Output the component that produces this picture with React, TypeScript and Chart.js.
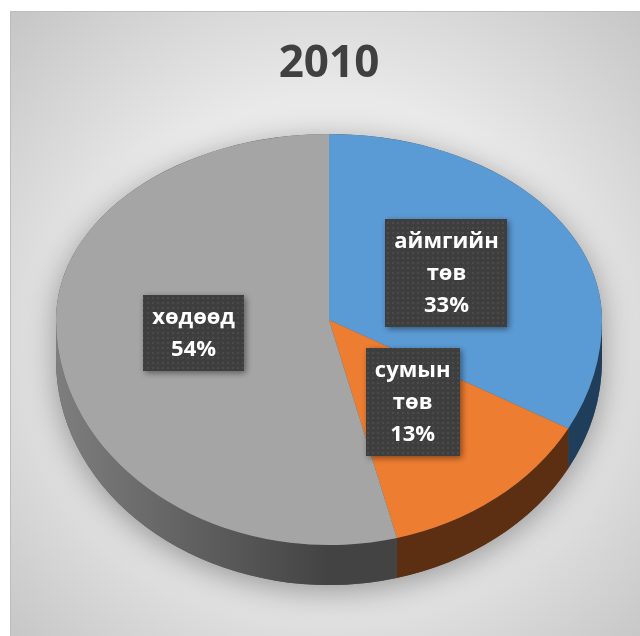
import React, { useEffect, useRef } from 'react';
import { Chart, registerables } from 'chart.js';

Chart.register(...registerables);

// ---- data ----
const TITLE = '2010';
const categories = ['аймгийн төв', 'сумын төв', 'хөдөөд'];
const shares = [33, 13, 54];
const topColors = ['#5b9bd5', '#ed7d31', '#a5a5a5'];
const sideColors: (string | null)[] = ['#1f3e5b', '#5c2f12', null];

// ---- layout of the 3D projection ----
const W = 640;
const H = 636;
const CX = 329;
const CY = 320;
const RX = 273;
const RY_UP = 186;
const RY_DOWN = 225;
const DEPTH = 40;
const LABEL_K_X = 0.5;
const LABEL_K_UP = 0.5;
const LABEL_K_DOWN = 0.46;

let dotPattern: CanvasPattern | null = null;
function getPattern(ctx: CanvasRenderingContext2D) {
  if (dotPattern) return dotPattern;
  const c = document.createElement('canvas');
  c.width = 5;
  c.height = 5;
  const p = c.getContext('2d')!;
  p.fillStyle = '#3e3e3e';
  p.fillRect(0, 0, 5, 5);
  p.fillStyle = '#4b4b4b';
  p.fillRect(2, 2, 2, 2);
  dotPattern = ctx.createPattern(c, 'repeat');
  return dotPattern;
}

const bgPlugin = {
  id: 'bgPanel',
  beforeDraw(chart: any) {
    const ctx: CanvasRenderingContext2D = chart.ctx;
    ctx.save();
    ctx.fillStyle = '#ffffff';
    ctx.fillRect(0, 0, W, H);
    const g = ctx.createRadialGradient(330, 330, 0, 330, 330, 470);
    g.addColorStop(0, '#f8f8f8');
    g.addColorStop(0.5, '#e9e9e9');
    g.addColorStop(1, '#c2c2c2');
    ctx.fillStyle = g;
    ctx.fillRect(10, 11, W - 10, H - 11);
    ctx.fillStyle = '#bdbdbd';
    ctx.fillRect(10, 11, W - 10, 1);
    ctx.fillRect(10, 11, 1, H - 11);
    ctx.restore();
  },
};

const pie3dPlugin = {
  id: 'pie3d',
  beforeDatasetsDraw(chart: any) {
    const ctx: CanvasRenderingContext2D = chart.ctx;
    const arcs = chart.getDatasetMeta(0).data;
    if (!arcs.length) return;
    const { x, y, outerRadius: R } = arcs[0].getProps(['x', 'y', 'outerRadius'], true);

    // soft shadow under the pie
    ctx.save();
    ctx.beginPath();
    ctx.ellipse(CX, CY, RX, RY_UP, 0, Math.PI, 2 * Math.PI);
    ctx.ellipse(CX, CY + DEPTH, RX, RY_DOWN, 0, 0, Math.PI);
    ctx.closePath();
    ctx.shadowColor = 'rgba(0,0,0,0.35)';
    ctx.shadowBlur = 30;
    ctx.shadowOffsetY = 6;
    ctx.fillStyle = '#555555';
    ctx.fill();
    ctx.restore();

    // side walls (front half only)
    arcs.forEach((arc: any, i: number) => {
      const p = arc.getProps(['startAngle', 'endAngle'], true);
      const s = Math.max(p.startAngle, 0);
      const e = Math.min(p.endAngle, Math.PI);
      if (e <= s) return;
      ctx.save();
      ctx.beginPath();
      ctx.ellipse(CX, CY, RX, RY_DOWN, 0, s, e);
      ctx.ellipse(CX, CY + DEPTH, RX, RY_DOWN, 0, e, s, true);
      ctx.closePath();
      let fill: any = sideColors[i];
      if (!fill) {
        const g = ctx.createLinearGradient(CX - RX, 0, CX, 0);
        g.addColorStop(0, '#7e7e7e');
        g.addColorStop(1, '#434343');
        fill = g;
      }
      ctx.fillStyle = fill;
      ctx.fill();
      ctx.restore();
    });

    // top face, drawn by the library's arc elements under a projection
    const drawHalf = (upper: boolean) => {
      ctx.save();
      ctx.beginPath();
      if (upper) ctx.rect(0, 0, W, CY + 1);
      else ctx.rect(0, CY, W, H - CY);
      ctx.clip();
      ctx.translate(CX, CY);
      ctx.scale(RX / R, (upper ? RY_UP : RY_DOWN) / R);
      ctx.translate(-x, -y);
      arcs.forEach((a: any) => a.draw(ctx));
      ctx.restore();
    };
    drawHalf(true);
    drawHalf(false);
    return false;
  },
  afterDraw(chart: any) {
    const ctx: CanvasRenderingContext2D = chart.ctx;
    const arcs = chart.getDatasetMeta(0).data;
    const values: number[] = chart.data.datasets[0].data;
    const total = values.reduce((a, b) => a + b, 0);
    const labels: string[] = chart.data.labels;
    ctx.save();
    ctx.font = '700 22px "Open Sans"';
    arcs.forEach((arc: any, i: number) => {
      const { startAngle, endAngle } = arc.getProps(['startAngle', 'endAngle'], true);
      const mid = (startAngle + endAngle) / 2;
      const sn = Math.sin(mid);
      const lx = CX + LABEL_K_X * RX * Math.cos(mid);
      const ly = CY + (sn < 0 ? LABEL_K_UP * RY_UP : LABEL_K_DOWN * RY_DOWN) * sn;
      const lines = [...labels[i].split(' '), Math.round((values[i] / total) * 100) + '%'];
      const lh = 32;
      const w = Math.max(...lines.map((l) => ctx.measureText(l).width)) + 18;
      const h = lines.length * lh + 12;
      ctx.save();
      ctx.shadowColor = 'rgba(0,0,0,0.45)';
      ctx.shadowBlur = 6;
      ctx.shadowOffsetX = 2;
      ctx.shadowOffsetY = 2;
      ctx.fillStyle = getPattern(ctx) || '#404040';
      ctx.fillRect(Math.round(lx - w / 2), Math.round(ly - h / 2), Math.round(w), h);
      ctx.restore();
      ctx.fillStyle = '#ffffff';
      ctx.textAlign = 'center';
      ctx.textBaseline = 'middle';
      lines.forEach((l, j) => ctx.fillText(l, lx, ly - h / 2 + 7 + lh * j + lh / 2));
    });
    ctx.restore();
  },
};

export default function App() {
  const ref = useRef<HTMLCanvasElement>(null);
  useEffect(() => {
    if (!ref.current) return;
    const chart = new Chart(ref.current, {
      type: 'pie',
      data: {
        labels: categories,
        datasets: [
          {
            data: shares,
            backgroundColor: topColors,
            borderWidth: 0,
          },
        ],
      },
      options: {
        responsive: false,
        devicePixelRatio: 1,
        animation: false,
        layout: { padding: { left: 18, top: 11, right: 0, bottom: 0 } },
        plugins: {
          legend: { display: false },
          tooltip: { enabled: false },
          title: {
            display: true,
            text: TITLE,
            color: '#404040',
            font: { family: 'Open Sans', size: 44, weight: 'bold' },
            padding: { top: 27, bottom: 10 },
          },
        },
      },
      plugins: [bgPlugin, pie3dPlugin],
    });
    return () => chart.destroy();
  }, []);
  return (
    <div style={{ position: 'fixed', left: 0, top: 0, width: W, height: H }}>
      <canvas ref={ref} width={W} height={H} style={{ display: 'block', width: W, height: H }} />
    </div>
  );
}
